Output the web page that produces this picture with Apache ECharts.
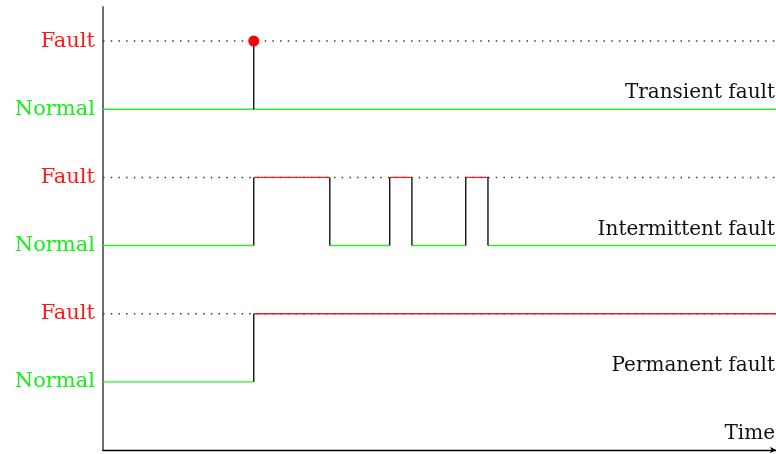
<!DOCTYPE html>
<html>
<head>
<meta charset="utf-8">
<script src="https://cdn.jsdelivr.net/npm/echarts@6/dist/echarts.min.js"></script>
<style>html,body{margin:0;padding:0;background:#fff}#c{width:776px;height:454px}</style>
</head>
<body>
<div id="c"></div>
<script>
// ---- data ----
const signalNames = ['Transient fault', 'Intermittent fault', 'Permanent fault'];
const normalLevels = [5, 3, 1];
const faultLevels = [6, 4, 2];
const tMin = 0, tMax = 100;
const transientSpikes = [22.4];
const intermittentEdges = [22.4, 33.7, 42.6, 45.9, 53.9, 57.2]; // alternating rise / fall
const permanentEdges = [22.4];
const yLevelLabels = ['', 'Normal', 'Fault', 'Normal', 'Fault', 'Normal', 'Fault'];
const axisName = 'Time';

const GREEN = '#33ea33', RED = '#ee2222', BLACK = '#141414';
const FONT = 'DejaVu Serif';

function seg(a, b, color, w, z, dash) {
  return {
    type: 'line', data: [a, b], symbol: 'none', silent: true, animation: false, z: z,
    lineStyle: { color: color, width: w, type: dash || 'solid' }
  };
}

const series = [];
// dotted fault reference lines
faultLevels.forEach(f => series.push(seg([tMin, f], [tMax, f], '#3a3a3a', 1.5, 1, [1.5, 6.2])));

// step signals
function stepSignal(edges, lo, hi) {
  const pts = [tMin].concat(edges, [tMax]);
  for (let i = 0; i < pts.length - 1; i++) {
    const fault = i % 2 === 1;
    series.push(seg([pts[i], fault ? hi : lo], [pts[i + 1], fault ? hi : lo], fault ? RED : GREEN, 1.4, 2));
  }
  edges.forEach(e => series.push(seg([e, lo], [e, hi], BLACK, 1.4, 3)));
}
stepSignal(intermittentEdges, normalLevels[1], faultLevels[1]);
stepSignal(permanentEdges, normalLevels[2], faultLevels[2]);

// transient: normal all along, spikes
series.push(seg([tMin, normalLevels[0]], [tMax, normalLevels[0]], GREEN, 1.4, 2));
transientSpikes.forEach(s => {
  series.push(seg([s, normalLevels[0]], [s, faultLevels[0]], BLACK, 1.4, 3));
  series.push({
    type: 'scatter', data: [[s, faultLevels[0]]], symbol: 'circle', symbolSize: 11,
    itemStyle: { color: '#ff0000', opacity: 1 }, z: 4, silent: true, animation: false
  });
});

const chart = echarts.init(document.getElementById('c'));
chart.setOption({
  animation: false,
  grid: { left: 103, right: 0, top: 7, bottom: 4 },
  xAxis: {
    type: 'value', min: tMin, max: tMax,
    axisLine: { show: true, lineStyle: { color: '#000', width: 1.4 }, symbol: ['none', 'arrow'], symbolSize: [5, 6] },
    axisTick: { show: false }, axisLabel: { show: false }, splitLine: { show: false }
  },
  yAxis: {
    type: 'value', min: 0, max: 6.5, interval: 1,
    axisLine: { show: true, lineStyle: { color: '#6e6e6e', width: 2 } },
    axisTick: { show: false }, splitLine: { show: false },
    axisLabel: {
      margin: 8, fontFamily: FONT, fontSize: 21,
      formatter: v => (Number.isInteger(v) ? (yLevelLabels[v] || '') : ''),
      color: v => (yLevelLabels[v] === 'Fault' ? '#ff1a1a' : '#18ef18')
    }
  },
  series: series
});

// signal names and axis name as text, placed through the chart's scales
const graphics = [];
signalNames.forEach((n, i) => {
  const p = chart.convertToPixel({ gridIndex: 0 }, [tMax, normalLevels[i]]);
  graphics.push({
    type: 'text', right: 1, top: p[1] - 26,
    style: { text: n, font: '20px "' + FONT + '"', fill: '#111' }, silent: true
  });
});
const o = chart.convertToPixel({ gridIndex: 0 }, [tMax, 0]);
graphics.push({
  type: 'text', right: 1, top: o[1] - 26,
  style: { text: axisName, font: '20px "' + FONT + '"', fill: '#111' }, silent: true
});
chart.setOption({ graphic: graphics });
</script>
</body>
</html>
